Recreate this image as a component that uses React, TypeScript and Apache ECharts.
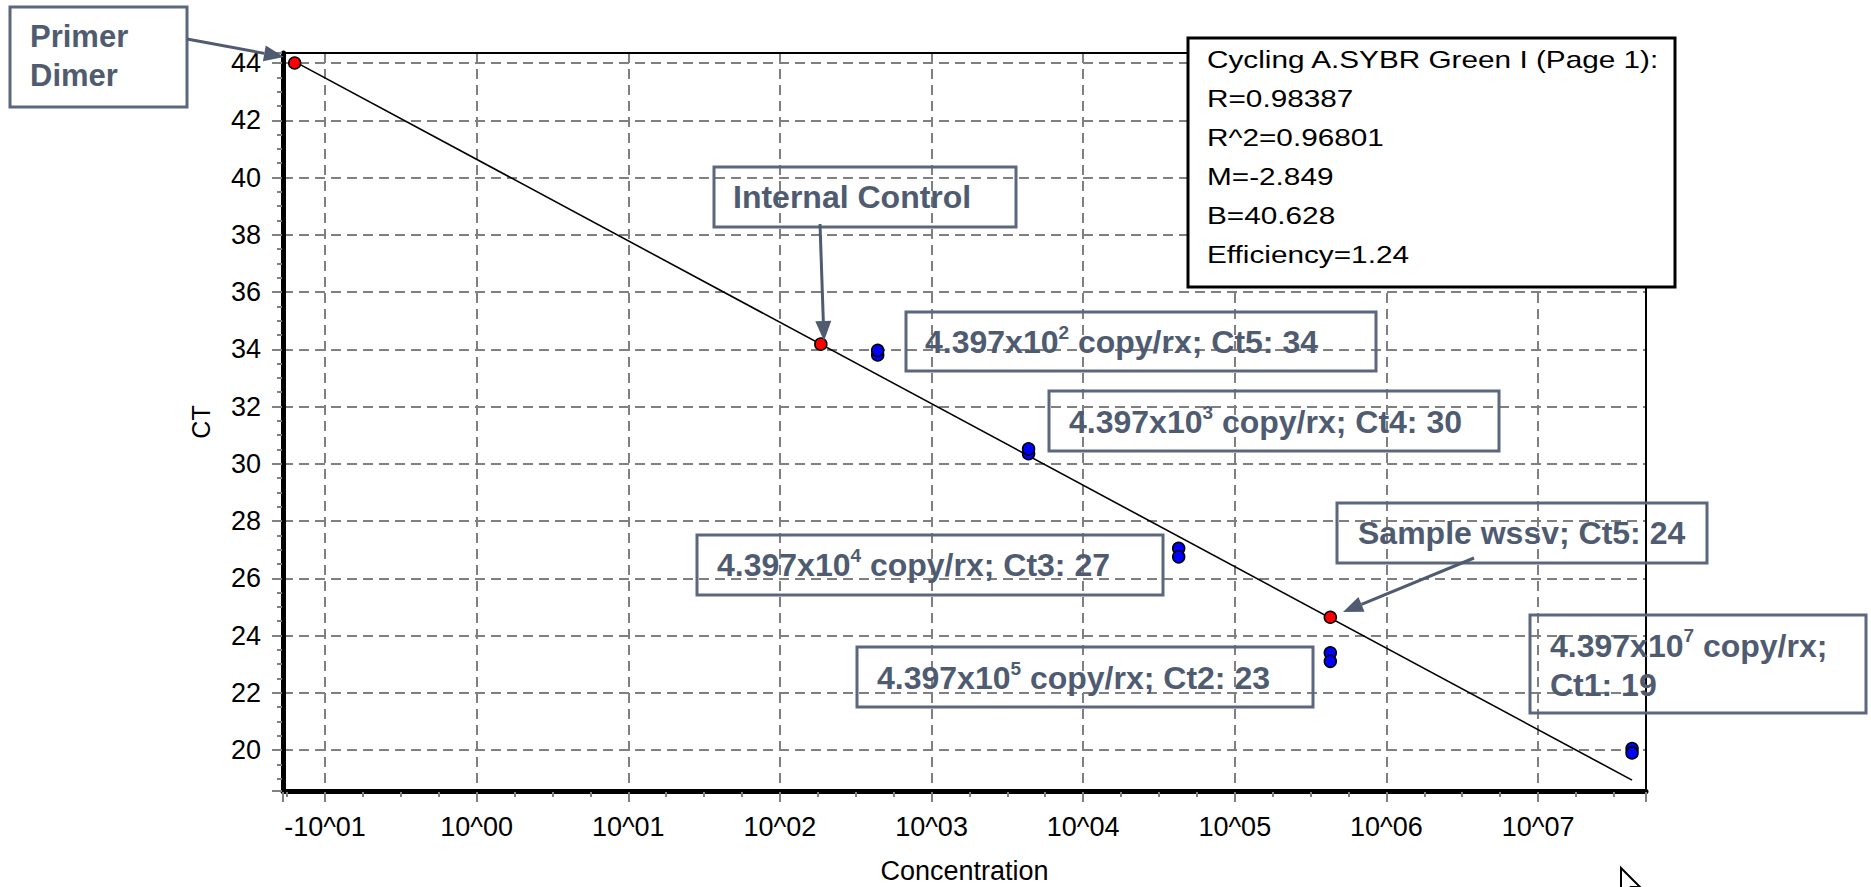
import React, { useEffect, useRef } from "react";
import * as echarts from "echarts";

// ---------- data ----------
// x values are log10(concentration); the axis shows decades
const xTickExponents = [-1, 0, 1, 2, 3, 4, 5, 6, 7];
const yTickValues = [20, 22, 24, 26, 28, 30, 32, 34, 36, 38, 40, 42, 44];

const standardsLogConc = [2.645, 2.645, 3.64, 3.64, 4.63, 4.63, 5.63, 5.63, 7.62, 7.62];
const standardsCt = [33.8, 33.96, 30.35, 30.52, 27.05, 26.75, 23.4, 23.1, 20.05, 19.9];

const highlightNames = ["Primer Dimer", "Internal Control", "Sample wssv"];
const highlightLogConc = [-1.2, 2.27, 5.63];
const highlightCt = [44.0, 34.18, 24.64];

const fitLogConc = [-1.2, 7.62];
const fitCt = [44.05, 18.95];

const statsLines = [
  "Cycling A.SYBR Green I (Page 1):",
  "R=0.98387",
  "R^2=0.96801",
  "M=-2.849",
  "B=40.628",
  "Efficiency=1.24",
];

const stdMantissa = "4.397x10";
const stdExponents = ["2", "3", "4", "5", "7"];
const stdCtLabels = ["Ct5: 34", "Ct4: 30", "Ct3: 27", "Ct2: 23", "Ct1: 19"];
const sampleLabel = "Sample wssv; Ct5: 24";

// ---------- layout ----------
const W = 1871;
const H = 887;
const PL = 283;
const PT = 53;
const PR = 1646;
const PB = 791;
const X_MIN = -1.277;
const X_MAX = 7.712;
const Y_MIN = 18.57;
const Y_MAX = 44.35;

const FONT = "Liberation Sans, Arial, sans-serif";
const SLATE = "#4e5b71";
const BOX = "#5a677f";
const GRAY = "#808080";
const ANN_SIZE = 32;

function boxRect(x1: number, y1: number, x2: number, y2: number) {
  return {
    type: "rect",
    z: 10,
    shape: { x: x1, y: y1, width: x2 - x1, height: y2 - y1 },
    style: { fill: "none", stroke: BOX, lineWidth: 3 },
  };
}

function arrow(x1: number, y1: number, x2: number, y2: number) {
  const dx = x2 - x1;
  const dy = y2 - y1;
  const len = Math.sqrt(dx * dx + dy * dy);
  const ux = dx / len;
  const uy = dy / len;
  const hl = 20;
  const hw = 8;
  const bx = x2 - ux * hl;
  const by = y2 - uy * hl;
  return [
    {
      type: "line",
      z: 11,
      shape: { x1, y1, x2: bx, y2: by },
      style: { stroke: SLATE, lineWidth: 3 },
    },
    {
      type: "polygon",
      z: 11,
      shape: {
        points: [
          [x2, y2],
          [bx - uy * hw, by + ux * hw],
          [bx + uy * hw, by - ux * hw],
        ],
      },
      style: { fill: SLATE },
    },
  ];
}

const richBold = {
  a: { fontSize: ANN_SIZE, fontWeight: "bold", fontFamily: FONT, fill: SLATE, lineHeight: 39 },
  s: { fontSize: 19, fontWeight: "bold", fontFamily: FONT, fill: SLATE, lineHeight: 32, verticalAlign: "top" },
};

function richLabel(x: number, y: number, text: string) {
  return {
    type: "text",
    z: 12,
    x,
    y,
    style: { text, rich: richBold, verticalAlign: "middle", align: "left" },
  };
}

function plainLabel(x: number, y: number, text: string, size = ANN_SIZE) {
  return {
    type: "text",
    z: 12,
    x,
    y,
    style: {
      text,
      fontSize: size,
      fontWeight: "bold",
      fontFamily: FONT,
      fill: SLATE,
      lineHeight: 39,
      verticalAlign: "middle",
      align: "left",
    },
  };
}

function stdText(i: number, twoLines = false) {
  if (twoLines) {
    return `{a|${stdMantissa}}{s|${stdExponents[i]}}{a| copy/rx;}\n{a|${stdCtLabels[i]}}`;
  }
  return `{a|${stdMantissa}}{s|${stdExponents[i]}}{a| copy/rx; ${stdCtLabels[i]}}`;
}

function xLabel(v: number) {
  const k = Math.round(v);
  if (Math.abs(v - k) > 1e-6 || xTickExponents.indexOf(k) < 0) return "";
  return (k < 0 ? "-" : "") + "10^" + String(Math.abs(k)).padStart(2, "0");
}

function yLabel(v: number) {
  const k = Math.round(v);
  if (Math.abs(v - k) > 1e-6 || yTickValues.indexOf(k) < 0) return "";
  return String(k);
}

export default function App() {
  const ref = useRef<HTMLDivElement>(null);

  useEffect(() => {
    if (!ref.current) return;
    const chart = echarts.init(ref.current, undefined, { renderer: "svg" });

    const standards = standardsLogConc.map((x, i) => [x, standardsCt[i]]);
    const highlights = highlightLogConc.map((x, i) => ({ name: highlightNames[i], value: [x, highlightCt[i]] }));
    const fit = fitLogConc.map((x, i) => [x, fitCt[i]]);

    const graphics: any[] = [
      // plot frame (top and right thin borders)
      {
        type: "rect",
        z: 5,
        shape: { x: PL, y: PT, width: PR - PL, height: PB - PT },
        style: { fill: "none", stroke: "#000", lineWidth: 2 },
      },
      // Primer Dimer
      boxRect(10, 7, 187, 107),
      plainLabel(30, 56, "Primer\nDimer", 31),
      ...arrow(187, 39, 284, 57),
      // Internal Control
      boxRect(714, 167, 1016, 227),
      plainLabel(733, 197, "Internal Control"),
      ...arrow(820, 224, 824, 341),
      // standards labels
      boxRect(906, 312, 1376, 371),
      richLabel(925, 342, stdText(0)),
      boxRect(1049, 391, 1499, 451),
      richLabel(1069, 422, stdText(1)),
      boxRect(697, 535, 1163, 595),
      richLabel(717, 565, stdText(2)),
      boxRect(857, 647, 1313, 707),
      richLabel(877, 678, stdText(3)),
      boxRect(1530, 615, 1866, 713),
      richLabel(1550, 665, stdText(4, true)),
      // Sample wssv
      boxRect(1337, 503, 1707, 563),
      plainLabel(1358, 533, sampleLabel),
      ...arrow(1474, 558, 1343, 612),
      // statistics box
      {
        type: "rect",
        z: 20,
        shape: { x: 1188, y: 38, width: 487, height: 249 },
        style: { fill: "#fff", stroke: "#000", lineWidth: 3 },
      },
      ...statsLines.map((t, i) => ({
        type: "text",
        z: 21,
        x: 1207,
        y: 60 + i * 39,
        scaleX: 1.24,
        style: {
          text: t,
          fontSize: 24,
          fontFamily: FONT,
          fill: "#000",
          verticalAlign: "middle",
          align: "left",
        },
      })),
      // mouse cursor
      {
        type: "polygon",
        z: 30,
        shape: {
          points: [
            [1621, 868],
            [1621, 895],
            [1627, 889],
            [1631, 898],
            [1635, 896],
            [1631, 887],
            [1640, 887],
          ],
        },
        style: { fill: "#fff", stroke: "#000", lineWidth: 2 },
      },
    ];

    chart.setOption({
      animation: false,
      backgroundColor: "#fff",
      grid: {
        left: PL,
        top: PT,
        right: W - PR,
        bottom: H - PB,
        containLabel: false,
        outerBoundsMode: "none",
      },
      xAxis: {
        type: "value",
        min: X_MIN,
        max: X_MAX,
        splitNumber: 9,
        axisLine: { show: true, onZero: false, lineStyle: { color: "#000", width: 5 } },
        axisTick: { show: true, length: 11, lineStyle: { color: GRAY, width: 2 } },
        minorTick: { show: true, splitNumber: 4, length: 6, lineStyle: { color: GRAY, width: 2 } },
        splitLine: {
          show: true,
          showMinLine: false,
          showMaxLine: false,
          lineStyle: { color: GRAY, width: 2, type: [10, 6] },
        },
        axisLabel: { margin: 22, fontSize: 27, color: "#000", fontFamily: FONT, formatter: xLabel },
        name: "Concentration",
        nameLocation: "middle",
        nameGap: 66,
        nameTextStyle: { fontSize: 27, lineHeight: 27, color: "#000", fontFamily: FONT },
      },
      yAxis: {
        type: "value",
        min: Y_MIN,
        max: Y_MAX,
        splitNumber: 13,
        axisLine: { show: true, onZero: false, lineStyle: { color: "#000", width: 5 } },
        axisTick: { show: true, length: 11, lineStyle: { color: GRAY, width: 2 } },
        minorTick: { show: true, splitNumber: 4, length: 6, lineStyle: { color: GRAY, width: 2 } },
        splitLine: {
          show: true,
          showMinLine: false,
          showMaxLine: false,
          lineStyle: { color: GRAY, width: 2, type: [10, 6] },
        },
        axisLabel: { margin: 22, fontSize: 27, color: "#000", fontFamily: FONT, formatter: yLabel },
        name: "CT",
        nameLocation: "middle",
        nameGap: 70,
        nameTextStyle: { fontSize: 25, color: "#000", fontFamily: FONT },
      },
      series: [
        {
          type: "line",
          name: "Standard curve",
          data: fit,
          showSymbol: false,
          symbol: "none",
          lineStyle: { color: "#000", width: 1.6 },
          z: 3,
        },
        {
          type: "scatter",
          name: "Standards",
          data: standards,
          symbol: "circle",
          symbolSize: 12,
          itemStyle: { color: "#0000ff", borderColor: "#000", borderWidth: 1.5, opacity: 1 },
          z: 4,
        },
        {
          type: "scatter",
          name: "Samples",
          data: highlights,
          symbol: "circle",
          symbolSize: 12,
          itemStyle: { color: "#ff0000", borderColor: "#000", borderWidth: 1.5, opacity: 1 },
          z: 4,
        },
      ],
      graphic: graphics,
    });

    return () => chart.dispose();
  }, []);

  return (
    <div
      ref={ref}
      style={{ position: "fixed", left: 0, top: 0, width: W, height: H, background: "#fff" }}
    />
  );
}
